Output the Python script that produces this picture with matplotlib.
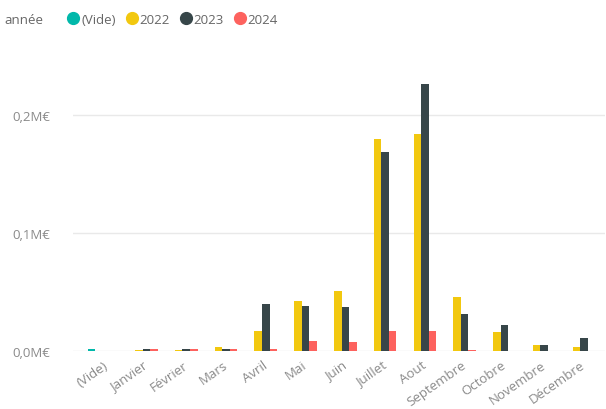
import numpy as np
import matplotlib.pyplot as plt
from matplotlib.lines import Line2D
from matplotlib.ticker import FuncFormatter

plt.rcParams['font.family'] = ['Open Sans', 'DejaVu Sans']

# ── DONNÉES (montants en M€) ─────────────────────────────────────────────────
mois = ['(Vide)', 'Janvier', 'Février', 'Mars', 'Avril', 'Mai', 'Juin',
        'Juillet', 'Aout', 'Septembre', 'Octobre', 'Novembre', 'Décembre']
annees = ['(Vide)', '2022', '2023', '2024']
couleurs = ['#01B8AA', '#F2C80F', '#374649', '#FD625E']

vals_vide = [0.002, 0, 0, 0, 0, 0, 0, 0, 0, 0, 0, 0, 0]
vals_2022 = [0, 0.001, 0.001, 0.003, 0.017, 0.042, 0.051, 0.180, 0.184,
             0.046, 0.016, 0.005, 0.003]
vals_2023 = [0, 0.002, 0.002, 0.002, 0.040, 0.038, 0.0375, 0.169, 0.226,
             0.031, 0.022, 0.005, 0.011]
vals_2024 = [0, 0.002, 0.002, 0.002, 0.002, 0.0085, 0.0076, 0.017, 0.017,
             0.001, 0, 0, 0]
series = [vals_vide, vals_2022, vals_2023, vals_2024]

yticks = [0.0, 0.1, 0.2]

# ── FIGURE ───────────────────────────────────────────────────────────────────
fig = plt.figure(figsize=(6.06, 4.10), dpi=100)
ax = fig.add_axes([0.12, 0.1415, 0.878, 0.676])

x = np.arange(len(mois))
bw = 0.19
for i, (vals, coul) in enumerate(zip(series, couleurs)):
    ax.bar(x + (i - 1.5) * bw, vals, width=bw, color=coul, linewidth=0)

ax.set_xlim(-0.76, 12.62)
ax.set_ylim(0, 0.235)
ax.set_yticks(yticks)
ax.yaxis.set_major_formatter(FuncFormatter(lambda v, p: f'{v:.1f}M€'.replace('.', ',')))
ax.grid(axis='y', color='#e9e9e9', linewidth=1)
ax.set_axisbelow(True)
for s in ax.spines.values():
    s.set_visible(False)

ax.set_xticks(x)
ax.set_xticklabels(mois, rotation=35, ha='right', rotation_mode='anchor')
ax.tick_params(axis='x', length=0, pad=5, labelsize=9.5, colors='#8a8a8a')
ax.tick_params(axis='y', length=0, pad=16, labelsize=9.5, colors='#8a8a8a')

# Légende : titre "année" puis pastilles en ligne
fig.text(0.008, 0.951, 'année', fontsize=9.5, color='#666666', va='center')
handles = [Line2D([], [], marker='o', linestyle='none', markersize=8.5,
                  markerfacecolor=c, markeredgecolor=c) for c in couleurs]
fig.legend(handles, annees, loc='center left', bbox_to_anchor=(0.108, 0.951),
           ncol=4, frameon=False, handletextpad=0.0, columnspacing=0.6,
           handlelength=1.2, fontsize=9.5, labelcolor='#666666',
           borderaxespad=0, borderpad=0)

fig.savefig('out.png', dpi=100)
